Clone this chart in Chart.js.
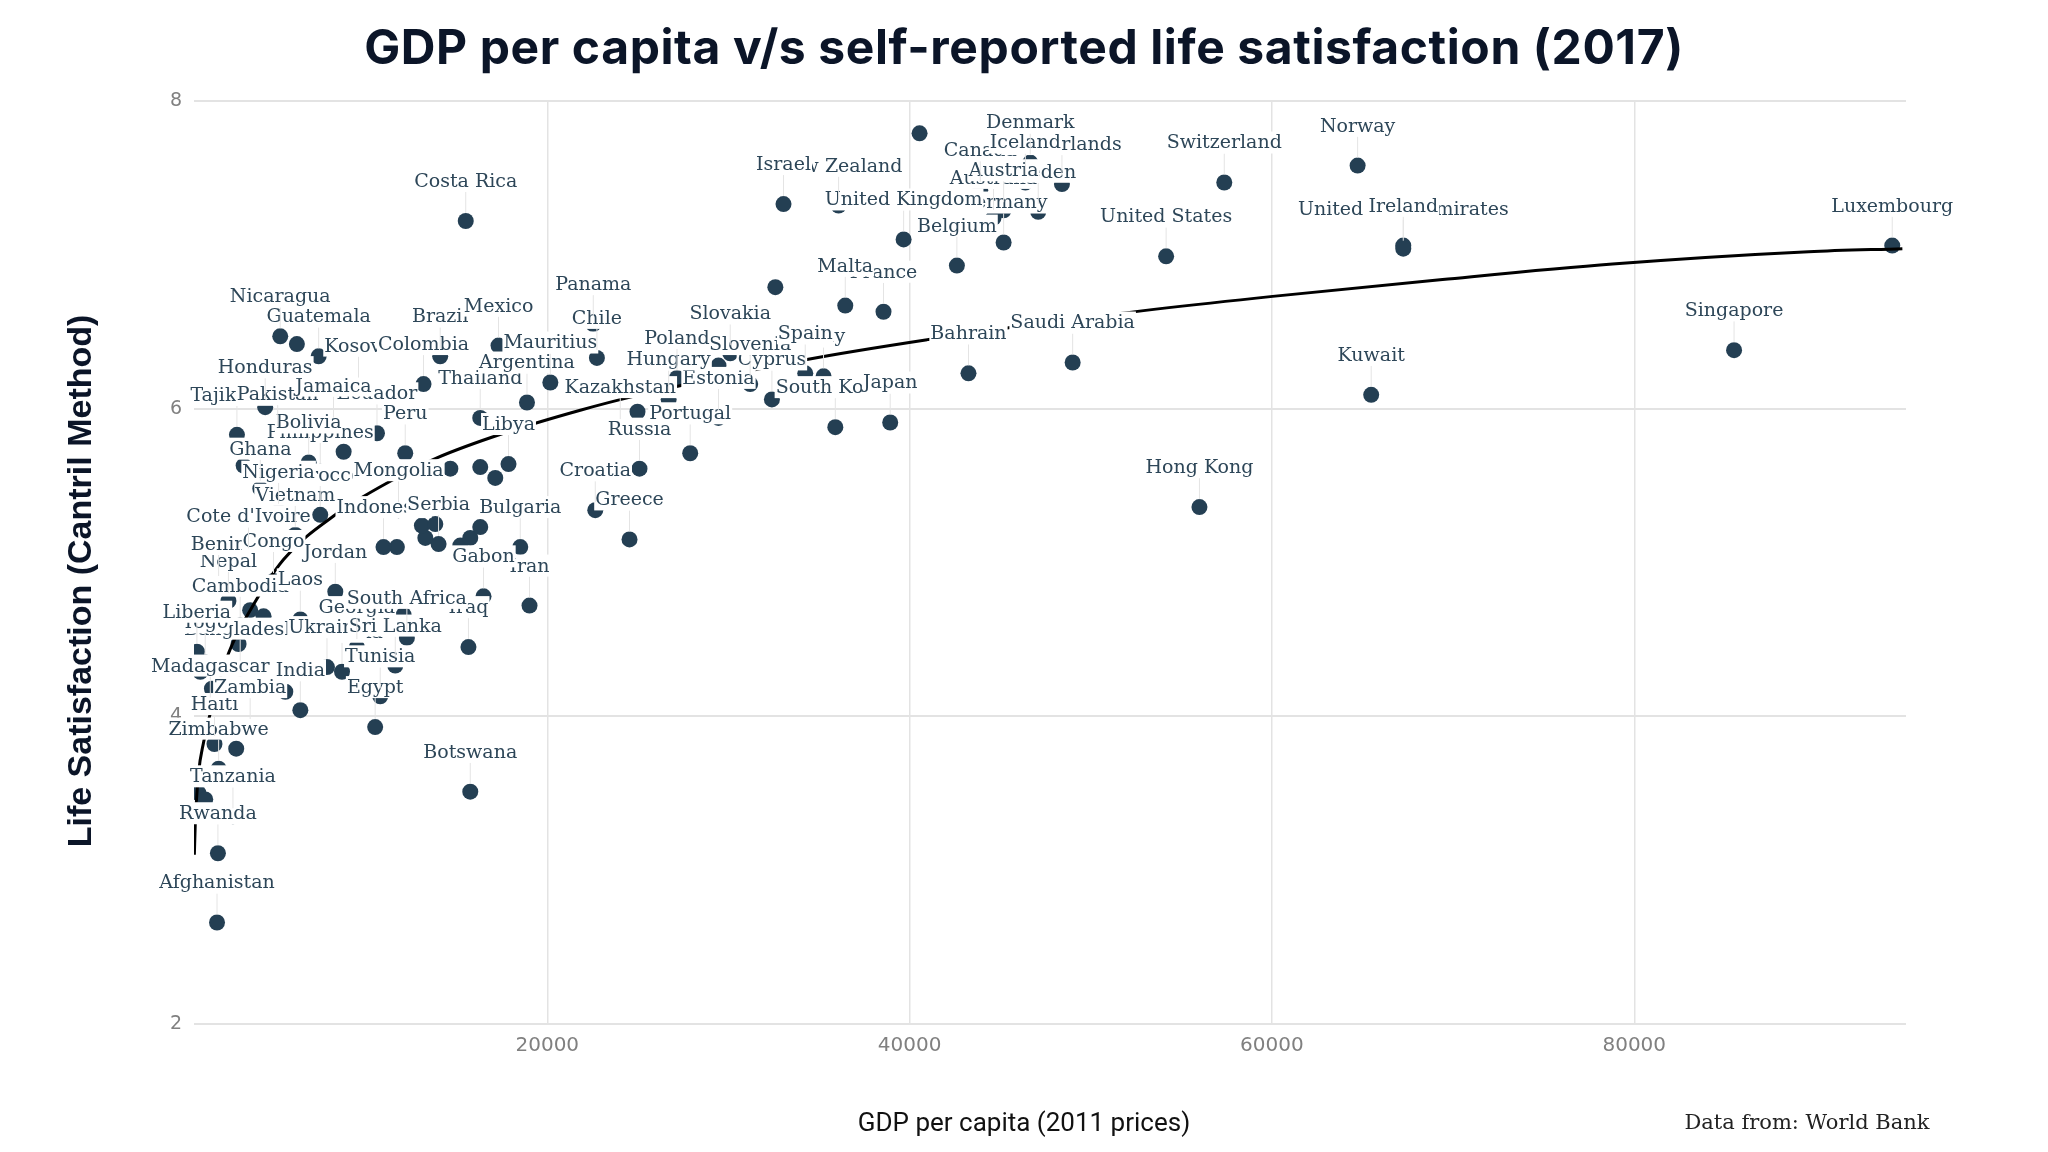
<!DOCTYPE html>
<html>
<head>
<meta charset="utf-8">
<title>GDP per capita v/s self-reported life satisfaction (2017)</title>
<script src="https://cdn.jsdelivr.net/npm/chart.js@4.4.1/dist/chart.umd.min.js"></script>
<style>
  html, body { margin: 0; padding: 0; background: #fff; }
  #wrap { width: 2048px; height: 1152px; }
</style>
</head>
<body>
<div id="wrap"><canvas id="chart"></canvas></div>
<script>
// one entry per country, same index in every array
const countries = [
  'Afghanistan', 'Rwanda', 'Tanzania', 'Zimbabwe', 'Haiti', 'Botswana', 'Lesotho', 'Malawi',
  'Central African Republic', 'Zambia', 'Egypt', 'India', 'Madagascar', 'Tunisia', 'Myanmar', 'Ethiopia',
  'Democratic Republic of Congo', 'Armenia', 'Bangladesh', 'Ukraine', 'Sri Lanka', 'Togo', 'Liberia', 'Georgia',
  'Iraq', 'Kenya', 'South Africa', 'Cambodia', 'Laos', 'Cameroon', 'Albania', 'Mauritania',
  'Iran', 'Nepal', 'Gabon', 'Jordan', 'Benin', 'Congo', "Cote d'Ivoire", 'Greece',
  'Bulgaria', 'Bosnia and Herzegovina', 'Indonesia', 'China', 'Serbia', 'Lebanon', 'Azerbaijan', 'Vietnam',
  'Montenegro', 'Macedonia', 'Algeria', 'Morocco', 'Nigeria', 'Croatia', 'Mongolia', 'Hong Kong',
  'Ghana', 'Belarus', 'Russia', 'Dominican Republic', 'Turkmenistan', 'Philippines', 'Kyrgyzstan', 'Libya',
  'Bolivia', 'Peru', 'Portugal', 'Paraguay', 'Pakistan', 'Ecuador', 'Tajikistan', 'Kazakhstan',
  'South Korea', 'Jamaica', 'Japan', 'Thailand', 'Estonia', 'Latvia', 'Honduras', 'Argentina',
  'Cyprus', 'Hungary', 'Kuwait', 'Kosovo', 'Colombia', 'Slovenia', 'Mauritius', 'Poland',
  'Italy', 'Bahrain', 'Spain', 'Trinidad and Tobago', 'Saudi Arabia', 'Chile', 'Guatemala', 'Brazil',
  'Slovakia', 'Singapore', 'Mexico', 'Uzbekistan', 'Nicaragua', 'Panama', 'France', 'Malta',
  'Czech Republic', 'Belgium', 'United States', 'United Arab Emirates', 'Ireland', 'Luxembourg', 'Germany', 'United Kingdom',
  'Costa Rica', 'Australia', 'Austria', 'Sweden', 'New Zealand', 'Israel', 'Canada', 'Netherlands',
  'Iceland', 'Switzerland', 'Norway', 'Denmark', 'Finland'
];

const gdp = [
  1770, 1820, 2650, 1860, 1630, 15750, 2830, 750,
  1120, 3600, 10500, 6370, 1400, 10780, 5540, 1490,
  850, 8670, 3050, 7840, 11610, 1120, 660, 9490,
  15650, 2960, 12250, 3050, 6370, 4340, 12070, 3600,
  19020, 2400, 16480, 8300, 1860, 4890, 3510, 24540,
  18510, 11700, 10960, 15200, 14000, 13270, 15750, 6090,
  16300, 13080, 13820, 7470, 5170, 22650, 11790, 56000,
  4160, 17130, 25090, 14650, 16300, 7470, 3240, 17860,
  6830, 12160, 27890, 8760, 5120, 10600, 2870, 24030,
  35900, 8200, 38930, 16300, 29450, 24980, 4430, 18880,
  32400, 26700, 65480, 9580, 13170, 31200, 20170, 27160,
  35250, 43250, 34240, 29450, 49000, 22740, 7380, 14090,
  30100, 85510, 17310, 6180, 5260, 22540, 38560, 36450,
  32590, 42610, 54160, 67250, 67250, 94240, 45190, 39670,
  15500, 44630, 45190, 47100, 36080, 33040, 43900, 48410,
  46390, 57370, 64730, 46660, 40550
];

const lifeSat = [
  2.66, 3.11, 3.35, 3.66, 3.82, 3.51, 3.79, 3.50,
  3.46, 3.93, 3.93, 4.04, 4.07, 4.13, 4.16, 4.18,
  4.29, 4.29, 4.31, 4.32, 4.33, 4.35, 4.42, 4.45,
  4.45, 4.47, 4.51, 4.59, 4.63, 4.65, 4.66, 4.69,
  4.72, 4.75, 4.78, 4.81, 4.86, 4.88, 5.04, 5.15,
  5.10, 5.10, 5.10, 5.11, 5.12, 5.16, 5.16, 5.18,
  5.23, 5.24, 5.25, 5.31, 5.33, 5.34, 5.34, 5.36,
  5.48, 5.55, 5.61, 5.61, 5.62, 5.59, 5.63, 5.64,
  5.65, 5.71, 5.71, 5.72, 5.835, 5.84, 5.83, 5.88,
  5.88, 5.89, 5.91, 5.94, 5.94, 5.98, 6.01, 6.04,
  6.06, 6.06, 6.09, 6.15, 6.16, 6.16, 6.17, 6.20,
  6.21, 6.23, 6.23, 6.28, 6.30, 6.33, 6.34, 6.34,
  6.36, 6.38, 6.41, 6.42, 6.47, 6.55, 6.63, 6.67,
  6.79, 6.93, 6.99, 7.04, 7.06, 7.06, 7.08, 7.10,
  7.22, 7.24, 7.29, 7.28, 7.32, 7.33, 7.42, 7.46,
  7.47, 7.47, 7.58, 7.60, 7.79
];

// points that show no name in the picture
const unlabelled = [
  'Lesotho', 'Malawi', 'Central African Republic', 'Myanmar', 'Ethiopia', 'Democratic Republic of Congo',
  'Kenya', 'Cameroon', 'Albania', 'Mauritania', 'Bosnia and Herzegovina', 'China', 'Lebanon', 'Azerbaijan',
  'Montenegro', 'Macedonia', 'Algeria', 'Belarus', 'Dominican Republic', 'Turkmenistan', 'Kyrgyzstan',
  'Paraguay', 'Latvia', 'Trinidad and Tobago', 'Uzbekistan', 'Czech Republic', 'Finland'
];

// smoothed trend
const trendGdp = [520, 569, 751, 1027, 1490, 2407, 3605, 5443, 8297, 11515, 13910, 17587, 21821, 24763, 34334, 41047, 48869, 60041, 69420, 78798, 89623, 94800];
const trendLife = [3.10, 3.30, 3.63, 3.83, 4.06, 4.41, 4.69, 5.02, 5.31, 5.54, 5.68, 5.84, 5.99, 6.08, 6.32, 6.45, 6.58, 6.73, 6.84, 6.94, 7.02, 7.04];

const xTicks = [20000, 40000, 60000, 80000];
const yTicks = [2, 4, 6, 8];

const titleText = 'GDP per capita v/s self-reported life satisfaction (2017)';
const xTitle = 'GDP per capita (2011 prices)';
const yTitle = 'Life Satisfaction (Cantril Method)';
const sourceText = 'Data from: World Bank';

const dotColor = '#243f53';
const labelColor = '#2d4658';

// names above points, drawn lowest score first so higher ones sit on top
const countryLabels = {
  id: 'countryLabels',
  afterDatasetsDraw(chart) {
    const meta = chart.getDatasetMeta(1);
    const area = chart.chartArea;
    const ctx = chart.ctx;
    const order = countries.map((c, i) => i).sort((a, b) => lifeSat[a] - lifeSat[b]);
    ctx.save();
    ctx.font = '19px "DejaVu Serif"';
    ctx.textAlign = 'center';
    ctx.textBaseline = 'middle';
    order.forEach(i => {
      if (unlabelled.includes(countries[i])) return;
      const pt = meta.data[i];
      const ly = pt.y - 40;
      if (ly < area.top) return;
      const w = ctx.measureText(countries[i]).width;
      ctx.strokeStyle = '#e4e4e4';
      ctx.lineWidth = 1;
      ctx.beginPath();
      ctx.moveTo(pt.x, ly + 11);
      ctx.lineTo(pt.x, pt.y - 8);
      ctx.stroke();
      ctx.fillStyle = '#ffffff';
      ctx.fillRect(pt.x - w / 2 - 1, ly - 11, w + 2, 22);
      ctx.fillStyle = labelColor;
      ctx.fillText(countries[i], pt.x, ly + 1);
    });
    ctx.restore();
  }
};

// title, axis titles and source note
const frameText = {
  id: 'frameText',
  afterDraw(chart) {
    const ctx = chart.ctx;
    ctx.save();
    ctx.textAlign = 'center';
    ctx.textBaseline = 'middle';
    ctx.fillStyle = '#0b1528';
    ctx.letterSpacing = '0.6px';
    ctx.font = 'bold 48px Inter';
    ctx.fillText(titleText, 1024, 50);
    ctx.letterSpacing = '0px';

    ctx.fillStyle = '#111111';
    ctx.font = '26px Roboto';
    ctx.fillText(xTitle, 1024, 1124);

    ctx.fillStyle = '#222222';
    ctx.font = '21px "DejaVu Serif"';
    ctx.fillText(sourceText, 1807, 1124);

    ctx.translate(82, 581);
    ctx.rotate(-Math.PI / 2);
    ctx.fillStyle = '#0b1528';
    ctx.font = 'bold 34px "Liberation Sans"';
    ctx.fillText(yTitle, 0, 0);
    ctx.restore();
  }
};

new Chart(document.getElementById('chart'), {
  data: {
    datasets: [
      {
        type: 'line',
        label: 'Trend',
        data: trendGdp.map((x, i) => ({ x: x, y: trendLife[i] })),
        borderColor: '#000000',
        borderWidth: 3,
        pointRadius: 0,
        cubicInterpolationMode: 'monotone',
        fill: false,
        order: 0
      },
      {
        type: 'scatter',
        label: 'Countries',
        data: gdp.map((x, i) => ({ x: x, y: lifeSat[i] })),
        backgroundColor: dotColor,
        borderWidth: 0,
        pointRadius: 8,
        pointHoverRadius: 8,
        order: 1
      }
    ]
  },
  options: {
    responsive: true,
    maintainAspectRatio: false,
    animation: false,
    layout: { padding: { top: 101, right: 142, left: 0, bottom: 0 } },
    plugins: {
      legend: { display: false },
      tooltip: { enabled: false }
    },
    scales: {
      x: {
        type: 'linear',
        min: 500,
        max: 95000,
        afterBuildTicks: s => { s.ticks = xTicks.map(v => ({ value: v })); },
        afterFit: s => { s.height = 128; },
        grid: { color: '#e3e3e3', lineWidth: 1.5, drawTicks: false },
        border: { display: false },
        ticks: {
          padding: 10,
          color: '#808080',
          font: { family: 'DejaVu Sans', size: 20 },
          callback: v => String(v)
        }
      },
      y: {
        type: 'linear',
        min: 2,
        max: 8,
        afterBuildTicks: s => { s.ticks = yTicks.map(v => ({ value: v })); },
        afterFit: s => { s.width = 194; },
        grid: { color: '#e3e3e3', lineWidth: 2, drawTicks: false },
        border: { display: false },
        ticks: {
          padding: 12,
          color: '#808080',
          font: { family: 'DejaVu Sans', size: 19 }
        }
      }
    }
  },
  plugins: [countryLabels, frameText]
});
</script>
</body>
</html>
